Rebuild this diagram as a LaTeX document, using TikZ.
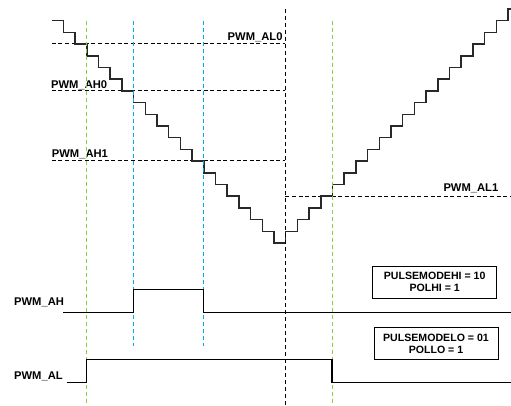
\documentclass[tikz,border=0pt]{standalone}
\usepackage{fontspec}
\setmainfont{Liberation Sans}
\usetikzlibrary{positioning}
\definecolor{markgreen}{RGB}{140,205,70}
\definecolor{markblue}{RGB}{0,170,235}
\definecolor{stairgray}{RGB}{40,40,40}

\begin{document}
\begin{tikzpicture}[x=1pt,y=-1pt,every node/.style={font=\fontsize{11.2}{12}\selectfont\bfseries,inner sep=0pt},
  level/.style={dash pattern=on 4pt off 2.6pt,line width=1pt},
  tline/.style={dash pattern=on 4pt off 3pt,line width=1pt},
  sig/.style={line width=1.4pt},
  modebox/.style={draw,line width=0.9pt,minimum width=124pt,minimum height=32pt,align=center,font=\fontsize{10.6}{12.3}\selectfont\bfseries}]
\useasboundingbox (0,0) rectangle (511,406);
% time marks
\coordinate (t1) at (86.7,0); \coordinate (t2) at (133.3,0); \coordinate (t3) at (203.7,0);
\coordinate (t4) at (285.3,0); \coordinate (t5) at (332,0);
% compare levels
\draw[level] (51.7,44) -- (285.3,44);
\draw[level] (51.7,90.7) -- (285.3,90.7);
\draw[level] (51.7,161) -- (285.3,161);
\draw[level] (285.3,196.3) -- (511,196.3);
\node[anchor=base east] (al0) at (282.7,40.5) {PWM\_AL0};
\node[anchor=base west] (ah0) at (51,89) {PWM\_AH0};
\node[anchor=base west] (ah1) at (51.7,157.7) {PWM\_AH1};
\node[anchor=base west] (al1) at (443.3,192) {PWM\_AL1};
% counter
\draw[stairgray,line width=1.5pt] (51.7,20.7) foreach \k in {1,...,19} { -- ++(11.7,0) -- ++(0,11.7) } -- ++(11.7,0)
  foreach \k in {1,...,19} { -- ++(0,-11.7) -- ++(11.7,0) } -- ++(0,-11.7) -- ++(3,0);
% vertical marks
\draw[tline,markgreen] (t1 |- 0,20.7) -- (t1 |- 0,406);
\draw[tline,markblue] (t2 |- 0,20.7) -- (t2 |- 0,346);
\draw[tline,markblue] (t3 |- 0,20.7) -- (t3 |- 0,346);
\draw[tline] (t4 |- 0,9) -- (t4 |- 0,406);
\draw[tline,markgreen] (t5 |- 0,20.7) -- (t5 |- 0,406);
% outputs
\node[anchor=base west] (pah) at (14,305.3) {PWM\_AH};
\node[anchor=base west] (pal) at (14,379) {PWM\_AL};
\draw[sig] (63.3,312.3) -- (t2 |- 0,312.3) -- (t2 |- 0,289.7) -- (t3 |- 0,289.7) -- (t3 |- 0,312.3) -- (511,312.3);
\draw[sig] (66.7,382.7) -- (t1 |- 0,382.7) -- (t1 |- 0,359.3) -- (t5 |- 0,359.3) -- (t5 |- 0,382.7) -- (511,382.7);
\node[modebox] (hibox) at (434.7,282) {PULSEMODEHI = 10\\POLHI = 1};
\node[modebox] (lobox) at (436,343.5) {PULSEMODELO = 01\\POLLO = 1};
\end{tikzpicture}
\end{document}
